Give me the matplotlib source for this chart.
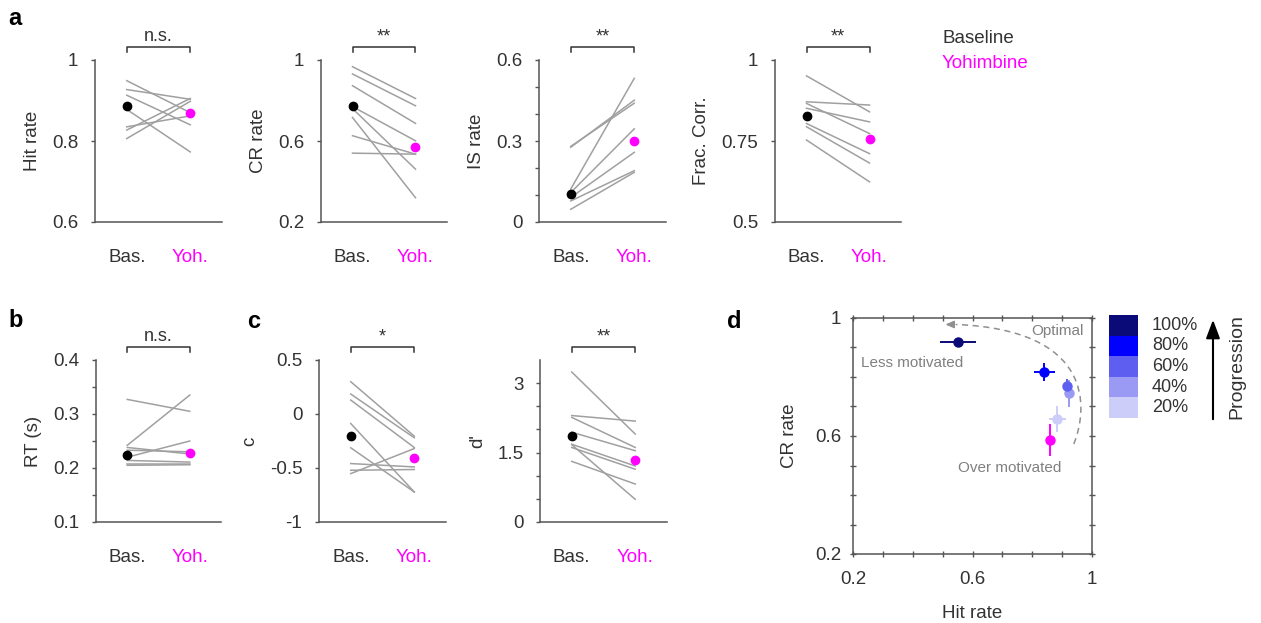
import matplotlib.pyplot as plt
import matplotlib.transforms as mtrans
from matplotlib.path import Path
from matplotlib.patches import PathPatch, FancyArrowPatch
from matplotlib.colors import ListedColormap
import numpy as np

plt.rcParams['font.family'] = ['Liberation Sans', 'DejaVu Sans']

# ---- data ----
conditions = ['Bas.', 'Yoh.']

hit_bas = [0.949, 0.927, 0.913, 0.878, 0.827, 0.806, 0.835]
hit_yoh = [0.870, 0.903, 0.840, 0.773, 0.905, 0.898, 0.862]
hit_mean = [0.886, 0.870]

cr_bas = [0.967, 0.931, 0.873, 0.770, 0.716, 0.626, 0.540, 0.760]
cr_yoh = [0.810, 0.774, 0.687, 0.601, 0.320, 0.535, 0.535, 0.461]
cr_mean = [0.774, 0.568]

is_bas = [0.277, 0.280, 0.122, 0.109, 0.091, 0.078, 0.047]
is_yoh = [0.451, 0.440, 0.532, 0.345, 0.258, 0.190, 0.184]
is_mean = [0.103, 0.299]

fc_bas = [0.951, 0.871, 0.866, 0.851, 0.804, 0.794, 0.753]
fc_yoh = [0.840, 0.861, 0.773, 0.809, 0.711, 0.682, 0.624]
fc_mean = [0.827, 0.755]

rt_bas = [0.327, 0.242, 0.220, 0.233, 0.214, 0.208, 0.205, 0.238]
rt_yoh = [0.305, 0.335, 0.250, 0.230, 0.211, 0.208, 0.206, 0.226]
rt_mean = [0.224, 0.228]

c_bas = [0.299, 0.185, 0.129, -0.088, -0.313, -0.459, -0.521, -0.552]
c_yoh = [-0.205, -0.220, -0.310, -0.722, -0.722, -0.490, -0.514, -0.320]
c_mean = [-0.205, -0.406]

d_bas = [3.24, 2.30, 2.26, 1.94, 1.68, 1.67, 1.61, 1.31]
d_yoh = [1.90, 2.18, 1.61, 1.54, 1.21, 0.49, 1.14, 0.82]
d_mean = [1.865, 1.34]

stages = ['100%', '80%', '60%', '40%', '20%']
stage_colors = ['#0a0a78', '#0000ff', '#5e5ef0', '#9a9af4', '#cdcdfa']
stage_hit = [0.552, 0.841, 0.916, 0.924, 0.884]
stage_cr = [0.920, 0.818, 0.770, 0.745, 0.657]
stage_hit_err = [0.060, 0.035, 0.010, 0.010, 0.029]
stage_cr_err = [0.010, 0.030, 0.023, 0.045, 0.045]
yoh_hit, yoh_cr = 0.861, 0.586
yoh_hit_err, yoh_cr_err = 0.008, 0.054

magenta = '#ff00ff'
gray = '#a0a0a0'
spine_c = '#555555'
text_c = '#333333'

W, H = 1261, 623
fig = plt.figure(figsize=(W / 100, H / 100), dpi=100)


def px_axes(left, top, right, bottom):
    return fig.add_axes([left / W, 1 - bottom / H, (right - left) / W, (bottom - top) / H])


def paired(ax, bas, yoh, mean, ylabel, ylim, ticks, minor, sig):
    for b, y in zip(bas, yoh):
        ax.plot([1, 2], [b, y], color=gray, lw=1.1, zorder=1)
    ax.plot(1, mean[0], 'o', color='black', ms=6, zorder=3)
    ax.plot(2, mean[1], 'o', color=magenta, ms=6, zorder=3)
    ax.set_xlim(0.5, 2.5)
    ax.set_ylim(*ylim)
    ax.set_yticks(ticks)
    ax.set_yticklabels(['%g' % t for t in ticks])
    if minor:
        ax.set_yticks(minor, minor=True)
    ax.set_xticks([1, 2])
    ax.set_xticklabels(conditions)
    for s in ['top', 'right']:
        ax.spines[s].set_visible(False)
    for s in ['left', 'bottom']:
        ax.spines[s].set_color(spine_c)
        ax.spines[s].set_linewidth(1.1)
    ax.tick_params(axis='x', length=0, pad=19.5, labelsize=13.5, labelcolor=text_c)
    ax.get_xticklabels()[1].set_color(magenta)
    ax.tick_params(axis='y', which='both', length=3, width=1, color=spine_c,
                   pad=9, labelsize=13.5, labelcolor=text_c)
    ax.set_ylabel(ylabel, fontsize=13.5, color=text_c, labelpad=8)
    # significance bracket
    tr = mtrans.blended_transform_factory(ax.transData, ax.transAxes)
    ax.plot([1, 1, 2, 2], [1.05, 1.08, 1.08, 1.05], color=text_c, lw=1.1,
            transform=tr, clip_on=False)
    ax.text(1.5, 1.09, sig, transform=tr, ha='center', va='bottom',
            fontsize=13, color=text_c)


# row a
ax = px_axes(95, 60, 222, 222)
paired(ax, hit_bas, hit_yoh, hit_mean, 'Hit rate', (0.6, 1), [0.6, 0.8, 1], None, 'n.s.')
ax = px_axes(321, 60, 447, 222)
paired(ax, cr_bas, cr_yoh, cr_mean, 'CR rate', (0.2, 1), [0.2, 0.6, 1], None, '**')
ax = px_axes(539, 60, 666, 222)
paired(ax, is_bas, is_yoh, is_mean, 'IS rate', (0, 0.6), [0, 0.3, 0.6],
       [0.1, 0.2, 0.4, 0.5], '**')
ax = px_axes(775, 60, 901, 222)
paired(ax, fc_bas, fc_yoh, fc_mean, 'Frac. Corr.', (0.5, 1), [0.5, 0.75, 1], None, '**')

# row b / c
ax = px_axes(96, 360, 221, 522)
paired(ax, rt_bas, rt_yoh, rt_mean, 'RT (s)', (0.1, 0.4), [0.1, 0.2, 0.3, 0.4],
       [0.15, 0.25, 0.35], 'n.s.')
ax = px_axes(319, 360, 446, 522)
paired(ax, c_bas, c_yoh, c_mean, 'c', (-1, 0.5), [-1, -0.5, 0, 0.5], None, '*')
ax = px_axes(540, 360, 667, 522)
paired(ax, d_bas, d_yoh, d_mean, "d'", (0, 3.5), [0, 1.5, 3],
       [0.5, 1, 2, 2.5], '**')

# legend text
fig.text(942 / W, 1 - 43 / H, 'Baseline', fontsize=13.5, color=text_c, va='baseline')
fig.text(942 / W, 1 - 68 / H, 'Yohimbine', fontsize=13.5, color=magenta, va='baseline')

# panel letters
for lab, x, y in [('a', 8, 25), ('b', 8, 327), ('c', 247, 328), ('d', 727, 328)]:
    fig.text(x / W, 1 - y / H, lab, fontsize=17, fontweight='bold', va='baseline')

# panel d
ax = px_axes(853, 318, 1092, 554)
ax.set_xlim(0.2, 1)
ax.set_ylim(0.2, 1)
ax.set_xticks([0.2, 0.6, 1])
ax.set_xticklabels(['0.2', '0.6', '1'])
ax.set_yticks([0.2, 0.6, 1])
ax.set_yticklabels(['0.2', '0.6', '1'])
mt = np.arange(0.3, 1.0, 0.1)
ax.set_xticks(mt, minor=True)
ax.set_yticks(mt, minor=True)
for s in ax.spines.values():
    s.set_color(spine_c)
    s.set_linewidth(1.1)
ax.tick_params(which='both', direction='inout', length=5, width=1, color=spine_c,
               top=True, right=True, labelsize=13.5, labelcolor=text_c)
ax.tick_params(axis='x', pad=10)
ax.tick_params(axis='y', pad=6)
ax.set_xlabel('Hit rate', fontsize=13.5, color=text_c, labelpad=12)
ax.set_ylabel('CR rate', fontsize=13.5, color=text_c, labelpad=12)

# dashed guide curve with arrow head
verts = [(0.939, 0.573), (0.99, 0.70), (1.0, 0.96), (0.545, 0.978)]
codes = [Path.MOVETO, Path.CURVE4, Path.CURVE4, Path.CURVE4]
ax.add_patch(PathPatch(Path(verts, codes), fill=False, ls=(0, (4, 3)),
                       lw=1.1, color='#909090', clip_on=False))
ax.annotate('', xy=(0.50, 0.978), xytext=(0.55, 0.978),
            arrowprops=dict(arrowstyle='-|>,head_length=0.5,head_width=0.22',
                            color='#909090', lw=1.1))

for i in range(len(stages))[::-1]:
    ax.errorbar(stage_hit[i], stage_cr[i], xerr=stage_hit_err[i], yerr=stage_cr_err[i],
                fmt='o', ms=6.5, color=stage_colors[i], elinewidth=1.4, capsize=0,
                zorder=3)
ax.errorbar(yoh_hit, yoh_cr, xerr=yoh_hit_err, yerr=yoh_cr_err, fmt='o', ms=6.5,
            color=magenta, elinewidth=1.4, capsize=0, zorder=3)

ax.text(0.973, 0.957, 'Optimal', ha='right', va='center', fontsize=11, color='#808080')
ax.text(0.226, 0.848, 'Less motivated', ha='left', va='center', fontsize=11, color='#808080')
ax.text(0.551, 0.490, 'Over motivated', ha='left', va='center', fontsize=11, color='#808080')

# colour key
cax = px_axes(1109, 315, 1138, 418)
cax.imshow(np.arange(len(stages)).reshape(-1, 1), aspect='auto',
           cmap=ListedColormap(stage_colors), interpolation='nearest')
cax.set_axis_off()
for i, s in enumerate(stages):
    cax.text(1.48, 1 - (i + 0.5) / len(stages), s, transform=cax.transAxes,
             ha='left', va='center', fontsize=13, color=text_c)

fig.patches.append(FancyArrowPatch(
    (1213 / W, 1 - 422 / H), (1213 / W, 1 - 317 / H), transform=fig.transFigure,
    arrowstyle='-|>,head_length=0.8,head_width=0.3', mutation_scale=14,
    color='black', lw=1.5))
fig.text(1237 / W, 1 - 367 / H, 'Progression', rotation=90, ha='center', va='center',
         fontsize=14, color=text_c)

fig.savefig('out.png', dpi=100)
